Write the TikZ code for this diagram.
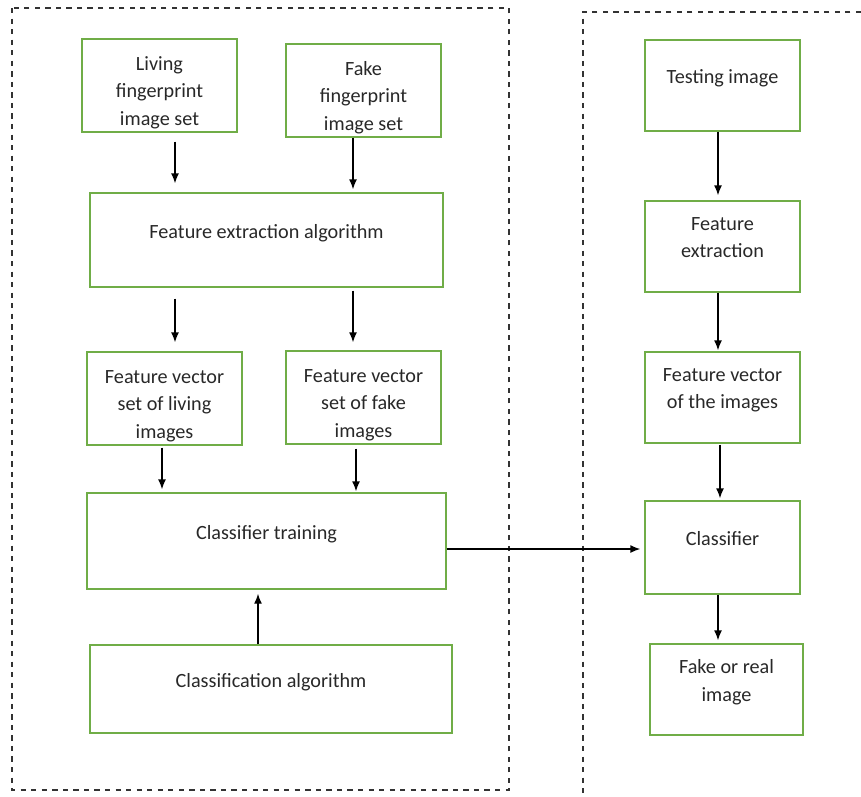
\documentclass[tikz,border=0pt]{standalone}
\usepackage{fontspec}
\setmainfont{Carlito}
\usepackage{tikz}
\usetikzlibrary{calc}
\usetikzlibrary{arrows.meta}
\usetikzlibrary{positioning}
\definecolor{boxgreen}{RGB}{112,173,71}
\definecolor{txtgray}{RGB}{40,40,40}
\newcommand{\boxgap}{\rule{0pt}{0.56cm}}
\tikzset{>=latex}
\tikzset{box/.style = {rectangle, draw=boxgreen, line width=0.8pt, align=center, inner sep=2, text=txtgray, font=\fontsize{11.5}{15.5}\selectfont}}
\tikzset{textup/.style = {text depth=0.36cm}}
\tikzset{arr/.style = {-{Latex[length=2mm,width=1.6mm]}, draw=black, line width=0.8pt}}
\tikzset{frame/.style = {dashed, draw=black!80, line width=0.7pt}}

\begin{document}
\begin{tikzpicture}[x=0.02cm, y=-0.02cm]
\useasboundingbox (0,0) rectangle (861,796);
% dashed frames
\draw [frame] (12,8) rectangle (509,790);
\draw [frame] (861,12) -- (583,12) -- (583,796);
% training side
\node [box, minimum width=3.1cm, minimum height=1.82cm] (liv) at (159.5, 85.5) {\boxgap Living\\fingerprint\\image set};
\node [box, minimum width=3.1cm, minimum height=1.82cm] (fake) at (363.5, 90.5) {\boxgap Fake\\fingerprint\\image set};
\node [box, textup, minimum width=7.06cm, minimum height=1.88cm] (fea) at (266.5, 240) {Feature extraction algorithm};
\node [box, minimum width=3.1cm, minimum height=1.86cm] (fvl) at (164.5, 398.5) {\boxgap Feature vector\\set of living\\images};
\node [box, minimum width=3.1cm, minimum height=1.86cm] (fvf) at (363.5, 397.5) {\boxgap Feature vector\\set of fake\\images};
\node [box, textup, minimum width=7.18cm, minimum height=1.92cm] (ct) at (266.5, 541) {Classifier training};
\node [box, textup, minimum width=7.24cm, minimum height=1.76cm] (ca) at (271, 689) {Classification algorithm};
% testing side
\node [box, textup, minimum width=3.1cm, minimum height=1.82cm] (ti) at (722.5, 85.5) {Testing image};
\node [box, textup, minimum width=3.1cm, minimum height=1.82cm] (fe) at (722.5, 246.5) {Feature\\extraction};
\node [box, textup, minimum width=3.1cm, minimum height=1.82cm] (fv) at (722.5, 397.5) {Feature vector\\of the images};
\node [box, textup, minimum width=3.1cm, minimum height=1.86cm] (cl) at (722.5, 547.5) {Classifier};
\node [box, textup, minimum width=3.06cm, minimum height=1.82cm] (fr) at (726.5, 689.5) {Fake or real\\image};
% arrows
\draw [arr, shorten <=0.18cm, shorten >=0.18cm] ([xshift=0.31cm]liv.south) -- ([xshift=0.31cm]liv.south |- fea.north);
\draw [arr, shorten >=0.06cm] ([xshift=-0.21cm]fake.south) -- ([xshift=-0.21cm]fake.south |- fea.north);
\draw [arr, shorten <=0.22cm, shorten >=0.18cm] ([xshift=0.21cm]fvl.north |- fea.south) -- ([xshift=0.21cm]fvl.north);
\draw [arr, shorten <=0.06cm, shorten >=0.16cm] ([xshift=-0.21cm]fvf.north |- fea.south) -- ([xshift=-0.21cm]fvf.north);
\draw [arr, shorten <=0.04cm, shorten >=0.06cm] ([xshift=-0.05cm]fvl.south) -- ([xshift=-0.05cm]fvl.south |- ct.north);
\draw [arr, shorten <=0.08cm, shorten >=0.02cm] ([xshift=-0.15cm]fvf.south) -- ([xshift=-0.15cm]fvf.south |- ct.north);
\draw [arr, shorten >=0.08cm] ([xshift=-0.17cm]ct.south |- ca.north) -- ([xshift=-0.17cm]ct.south);
\draw [arr, shorten >=0.08cm] ([yshift=-0.16cm]ct.east) -- ([yshift=-0.16cm]ct.east -| cl.west);
\draw [arr, shorten >=0.1cm] ([xshift=-0.09cm]ti.south) -- ([xshift=-0.09cm]ti.south |- fe.north);
\draw [arr, shorten >=0.02cm] ([xshift=-0.09cm]fe.south) -- ([xshift=-0.09cm]fe.south |- fv.north);
\draw [arr, shorten <=0.02cm, shorten >=0.04cm] ([xshift=-0.05cm]fv.south) -- ([xshift=-0.05cm]fv.south |- cl.north);
\draw [arr, shorten >=0.06cm] ([xshift=-0.09cm]cl.south) -- ([xshift=-0.09cm]cl.south |- fr.north);
\end{tikzpicture}
\end{document}
